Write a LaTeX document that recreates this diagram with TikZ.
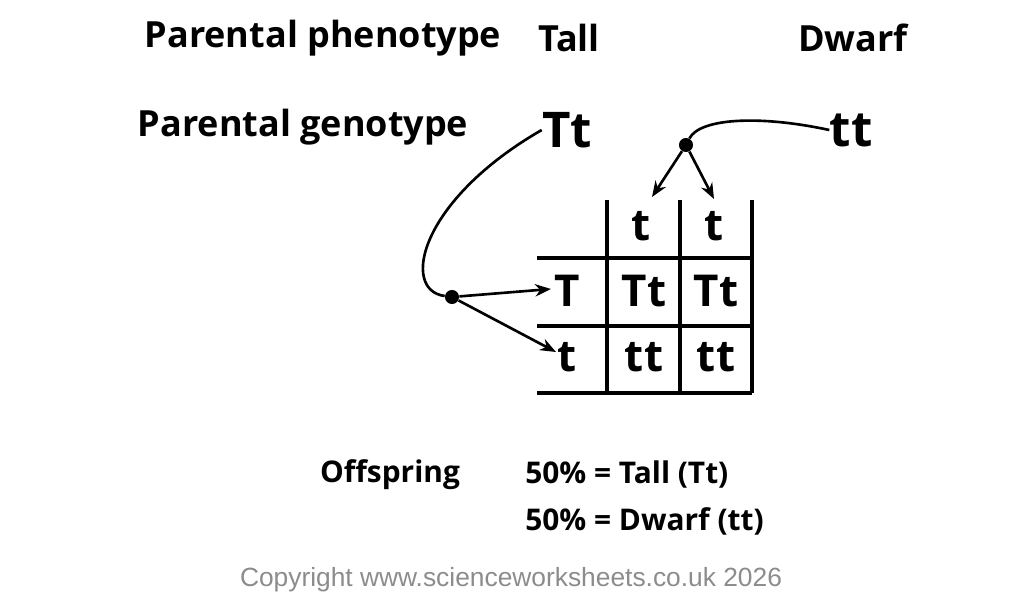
\documentclass[tikz,border=0pt]{standalone}
\usepackage{fontspec}
\setmainfont{Open Sans}
\usetikzlibrary{arrows.meta}
\tikzset{
  lbl/.style={font=\bfseries\fontsize{20.5pt}{24pt}\selectfont, inner sep=0pt},
  gen/.style={font=\bfseries\fontsize{28pt}{31pt}\selectfont, inner sep=0pt},
  cell/.style={font=\bfseries\fontsize{25pt}{28pt}\selectfont, inner sep=0pt},
  off/.style={font=\bfseries\fontsize{17pt}{20pt}\selectfont, inner sep=0pt, anchor=west},
  grid/.style={line width=2pt},
  link/.style={line width=1.5pt},
  arr/.style={line width=1.5pt, -{Stealth[length=9pt,width=7pt]}},
  dot/.style={circle, fill=black, inner sep=0pt, minimum size=8pt}
}
\begin{document}
\begin{tikzpicture}[x=0.02cm,y=-0.02cm]
  \useasboundingbox (0,0) rectangle (1024,595);
  % headings
  \node[lbl] (pheno) at (323,38) {Parental phenotype};
  \node[lbl] (tall) at (569,38) {Tall};
  \node[lbl] (dwarf) at (853,38) {Dwarf};
  \node[lbl] (geno) at (303,127) {Parental genotype};
  \node[gen] (Tt) at (567,130) {Tt};
  \node[gen] (tt) at (851,130) {tt};
  % gametes
  \node[dot] (dm) at (686,145) {};
  \node[dot] (df) at (452,297) {};
  \coordinate (c1) at (652,197);
  \coordinate (c2) at (714,199);
  \coordinate (r1) at (551,289);
  \coordinate (r2) at (556,352);
  \draw[link] (tt.west) .. controls (760,115) and (700,118) .. (dm);
  \draw[link] (Tt.west) .. controls (420,200) and (400,290) .. (df);
  \draw[arr] (dm) -- (c1);
  \draw[arr] (dm) -- (c2);
  \draw[arr] (df) -- (r1);
  \draw[arr] (df) -- (r2);
  % punnett square
  \draw[grid] (607,200) -- (607,393);
  \draw[grid] (680,200) -- (680,393);
  \draw[grid] (752,200) -- (752,393);
  \draw[grid] (537,258) -- (752,258);
  \draw[grid] (537,326) -- (752,326);
  \draw[grid] (537,393) -- (752,393);
  \node[cell] (h1) at (641,226) {t};
  \node[cell] (h2) at (714,226) {t};
  \node[cell] (v1) at (567,291) {T};
  \node[cell] (v2) at (567,357) {t};
  \node[cell] (a11) at (644,291) {Tt};
  \node[cell] (a12) at (716,291) {Tt};
  \node[cell] (a21) at (644,357) {tt};
  \node[cell] (a22) at (716,357) {tt};
  % offspring
  \node[off, anchor=center] (offs) at (390,475) {Offspring};
  \node[off] (res1) at (525,475) {50\% = Tall (Tt)};
  \node[off] (res2) at (525,521) {50\% = Dwarf (tt)};
  \node[font=\fontspec{Liberation Sans}\fontsize{15pt}{18pt}\selectfont, text=black!45, inner sep=0pt] (copy) at (511,580) {Copyright www.scienceworksheets.co.uk 2026};
\end{tikzpicture}
\end{document}
